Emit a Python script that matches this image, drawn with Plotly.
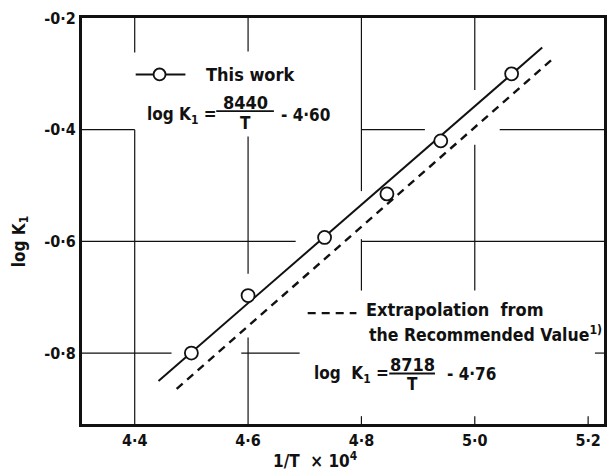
import plotly.graph_objects as go

# ---- data ----
inv_T = [4.50, 4.60, 4.735, 4.845, 4.94, 5.065]
log_K1 = [-0.80, -0.697, -0.593, -0.515, -0.42, -0.30]

fit_this_x = [4.442, 5.119]
fit_this_y = [-0.850, -0.253]
fit_rec_x = [4.474, 5.140]
fit_rec_y = [-0.864, -0.271]

x_tickvals = [4.4, 4.6, 4.8, 5.0, 5.2]
x_ticktext = ["4·4", "4·6", "4·8", "5·0", "5·2"]
y_tickvals = [-0.2, -0.4, -0.6, -0.8]
y_ticktext = ["-0·2", "-0·4", "-0·6", "-0·8"]

XR = [4.307, 5.228]
YR = [-0.927, -0.2]

# ---- layout geometry (pixels) ----
W, H = 616, 474
L, R, T, B = 82, 9, 14, 50
PW, PH = W - L - R, H - T - B


def px(x):
    return (x - L) / PW


def py(y):
    return (H - B - y) / PH


FONT = "DejaVu Sans Condensed, DejaVu Sans"
INK = "#111111"

fig = go.Figure()

fig.add_trace(go.Scatter(x=fit_this_x, y=fit_this_y, mode="lines",
                         line=dict(color=INK, width=2), showlegend=False))
fig.add_trace(go.Scatter(x=fit_rec_x, y=fit_rec_y, mode="lines",
                         line=dict(color=INK, width=2.4, dash="8px,6px"), showlegend=False))
fig.add_trace(go.Scatter(x=inv_T, y=log_K1, mode="markers",
                         marker=dict(symbol="circle", size=13, color="white",
                                     line=dict(color=INK, width=1.8)),
                         showlegend=False))

shapes = []
# broken grid segments (as on the original graph paper)
vseg = [
    (4.4, -0.2, -0.262), (4.4, -0.4, YR[0]),
    (4.6, -0.2, -0.260), (4.6, -0.412, -0.658), (4.6, -0.772, YR[0]),
    (4.8, -0.2, -0.510), (4.8, -0.596, -0.688), (4.8, -0.913, YR[0]),
    (5.0, -0.2, -0.329), (5.0, -0.427, -0.688), (5.0, -0.913, YR[0]),
    (5.2, -0.913, YR[0]),
]
hseg = [
    (-0.4, XR[0], 4.4), (-0.4, 4.8, 4.912), (-0.4, 5.044, XR[1]),
    (-0.6, XR[0], 4.684), (-0.6, 4.8, XR[1]),
    (-0.8, XR[0], 4.465), (-0.8, 4.588, 4.691), (-0.8, 5.212, XR[1]),
]
for x, y0, y1 in vseg:
    shapes.append(dict(type="line", xref="x", yref="y", x0=x, x1=x, y0=y0, y1=y1,
                       line=dict(color=INK, width=1.2), layer="below"))
for y, x0, x1 in hseg:
    shapes.append(dict(type="line", xref="x", yref="y", x0=x0, x1=x1, y0=y, y1=y,
                       line=dict(color=INK, width=1.2), layer="below"))

# legend: this work
shapes.append(dict(type="line", xref="paper", yref="paper", x0=px(136), x1=px(186),
                   y0=py(71), y1=py(71), line=dict(color=INK, width=2)))
shapes.append(dict(type="circle", xref="paper", yref="paper",
                   x0=px(154), x1=px(166), y0=py(65), y1=py(77),
                   line=dict(color=INK, width=1.8), fillcolor="white"))
# legend: extrapolation
shapes.append(dict(type="line", xref="paper", yref="paper", x0=px(309), x1=px(358),
                   y0=py(312), y1=py(312), line=dict(color=INK, width=2.4, dash="8px,6px")))
# fraction bars
shapes.append(dict(type="line", xref="paper", yref="paper", x0=px(217), x1=px(275),
                   y0=py(108), y1=py(108), line=dict(color=INK, width=1.8)))
shapes.append(dict(type="line", xref="paper", yref="paper", x0=px(391), x1=px(437),
                   y0=py(373), y1=py(373), line=dict(color=INK, width=1.8)))

ann = []


def text(s, x, y, size=17, xanchor="left", **kw):
    ann.append(dict(text="<b>" + s + "</b>", x=px(x), y=py(y), xref="paper", yref="paper",
                    xanchor=xanchor, yanchor="middle", showarrow=False,
                    font=dict(family=FONT, size=size, color=INK), **kw))


text("This work", 205, 71, 18)
text("log K<sub>1</sub> =", 145, 112, 17)
text("8440", 246, 99, 18, xanchor="center")
text("T", 246, 120, 17, xanchor="center")
text("- 4·60", 280, 112, 17)

text("Extrapolation  from", 366, 308, 18)
text("the Recommended Value<sup>1)</sup>", 369, 333, 17.5)
text("log  K<sub>1</sub> =", 313, 374, 17)
text("8718", 414, 364, 18, xanchor="center")
text("T", 414, 384, 17, xanchor="center")
text("- 4·76", 447, 374, 17)

# axis titles
text("1/T  × 10<sup>4</sup>", 316, 460, 17, xanchor="center")
ann.append(dict(text="<b>log K<sub>1</sub></b>", x=px(20), y=py(240), xref="paper", yref="paper",
                xanchor="center", yanchor="middle", showarrow=False, textangle=-90,
                font=dict(family=FONT, size=17, color=INK)))

tickfont = dict(family=FONT, size=16, color=INK, weight="bold")
fig.update_layout(
    width=W, height=H,
    margin=dict(l=L, r=R, t=T, b=B),
    paper_bgcolor="white", plot_bgcolor="white",
    shapes=shapes, annotations=ann,
    xaxis=dict(range=XR, tickvals=x_tickvals, ticktext=x_ticktext, showgrid=False,
               zeroline=False, showline=True, linecolor=INK, linewidth=3, mirror=True,
               ticks="", tickfont=tickfont),
    yaxis=dict(range=YR, tickvals=y_tickvals, ticktext=y_ticktext, showgrid=False,
               zeroline=False, showline=True, linecolor=INK, linewidth=3, mirror=True,
               ticks="", tickfont=tickfont),
)

fig.write_html("out.html", config={"displayModeBar": False},
               post_script="document.body.style.margin='0';document.body.style.padding='0';")
